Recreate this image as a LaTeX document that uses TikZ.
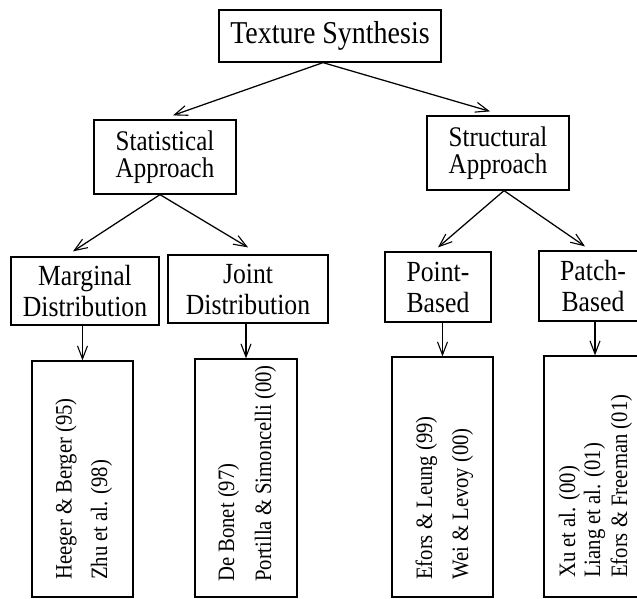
\documentclass[tikz,border=0pt]{standalone}
\usepackage{fontspec}
\setmainfont{Liberation Serif}[FakeStretch=0.88]
\usetikzlibrary{arrows.meta}
\begin{document}
\begin{tikzpicture}[x=1pt,y=1pt,
  box/.style={draw,line width=1.25pt,inner sep=0pt,align=center},
  conn/.style={line width=1.25pt,-{Straight Barb[length=13pt,width=10pt,line width=1.1pt]}},
  leaf/.style={rotate=90,anchor=base west,inner sep=0pt,font=\fontsize{23.5}{23.5}\selectfont}]
\useasboundingbox (0,0) rectangle (637,-598);
\clip (0,0) rectangle (637,-598);
% top
\node[box,minimum width=222pt,minimum height=52pt,font=\fontsize{31.8}{31.8}\selectfont] (ts) at (330,-36) {Texture Synthesis};
% level 2
\node[box,minimum width=142pt,minimum height=74pt,font=\fontsize{28.4}{27.5}\selectfont] (stat) at (165,-157) {Statistical\\Approach};
\node[box,minimum width=142pt,minimum height=74pt,font=\fontsize{28.4}{27.5}\selectfont] (struct) at (498,-153) {Structural\\Approach};
% level 3
\node[box,minimum width=148pt,minimum height=68pt,font=\fontsize{29.2}{31}\selectfont] (marg) at (85,-291) {Marginal\\Distribution};
\node[box,minimum width=160pt,minimum height=68pt,font=\fontsize{29.2}{31}\selectfont] (joint) at (248,-289) {Joint\\Distribution};
\node[box,minimum width=106pt,minimum height=70pt,font=\fontsize{29.2}{31}\selectfont] (point) at (438,-287) {Point-\\Based};
\node[box,minimum width=108pt,minimum height=70pt,font=\fontsize{29.2}{31}\selectfont] (patch) at (593,-286) {Patch-\\Based};
% leaves
\node[box,minimum width=101pt,minimum height=236pt] (b1) at (82.5,-479) {};
\node[box,minimum width=102pt,minimum height=238pt] (b2) at (246,-478) {};
\node[box,minimum width=101pt,minimum height=240pt] (b3) at (442.5,-477) {};
\node[box,minimum width=102pt,minimum height=241pt] (b4) at (595,-476.5) {};
\node[leaf] (t11) at (71.5,-580) {Heeger \& Berger (95)};
\node[leaf] (t12) at (107,-580) {Zhu et al. (98)};
\node[leaf] (t21) at (234,-582) {De Bonet (97)};
\node[leaf] (t22) at (271,-582) {Portilla \& Simoncelli (00)};
\node[leaf] (t31) at (432,-580) {Efors \& Leung (99)};
\node[leaf] (t32) at (468,-580) {Wei \& Levoy (00)};
\node[leaf] (t41) at (575,-578) {Xu et al. (00)};
\node[leaf] (t42) at (600,-578) {Liang et al. (01)};
\node[leaf] (t43) at (627,-578) {Efors \& Freeman (01)};
% connectors
\draw[conn] ([xshift=-7pt]ts.south) -- ([xshift=8pt,yshift=4pt]stat.north);
\draw[conn] ([xshift=-7pt]ts.south) -- ([xshift=-8pt,yshift=4pt]struct.north);
\draw[conn] ([xshift=-5pt]stat.south) -- ([xshift=-12pt,yshift=5pt]marg.north);
\draw[conn] ([xshift=-5pt]stat.south) -- ([yshift=7pt]joint.north);
\draw[conn] ([xshift=6pt]struct.south) -- ([yshift=4pt]point.north);
\draw[conn] ([xshift=6pt]struct.south) -- ([xshift=-8pt,yshift=4pt]patch.north);
\draw[conn] (b1.north |- marg.south) -- (b1.north);
\draw[conn] (b2.north |- joint.south) -- (b2.north);
\draw[conn] (b3.north |- point.south) -- (b3.north);
\draw[conn] (b4.north |- patch.south) -- (b4.north);
\end{tikzpicture}
\end{document}
